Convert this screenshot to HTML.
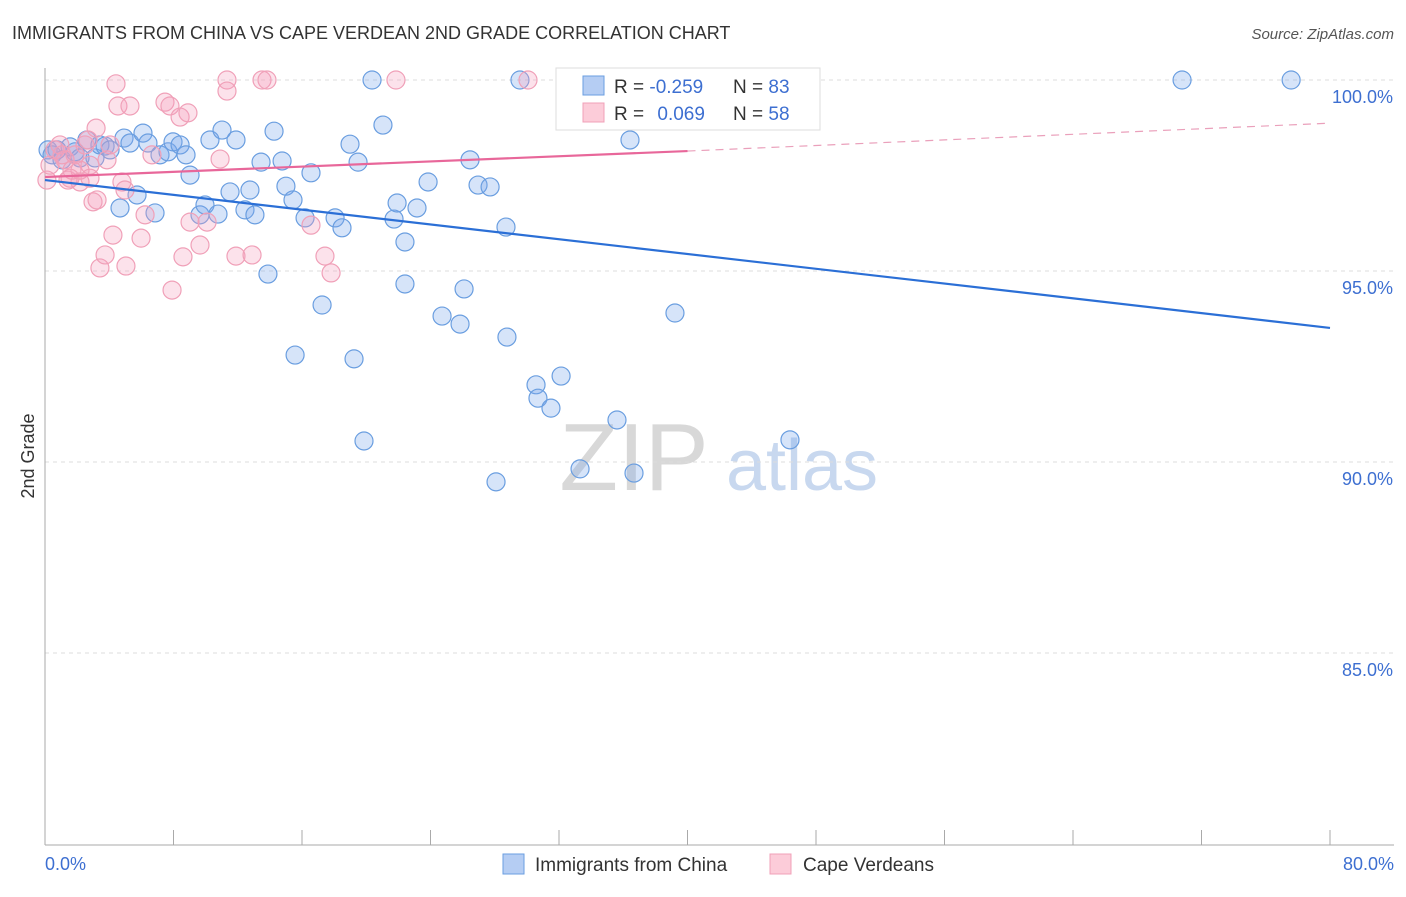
<!DOCTYPE html>
<html><head><meta charset="utf-8"><style>
body{margin:0;background:#fff;font-family:"Liberation Sans",sans-serif}
svg text{font-family:"Liberation Sans",sans-serif}
</style></head><body>
<svg id="c" width="1406" height="892" viewBox="0 0 1406 892">
<text x="12" y="39" font-size="18" fill="#333">IMMIGRANTS FROM CHINA VS CAPE VERDEAN 2ND GRADE CORRELATION CHART</text>
<text x="1394" y="39" font-size="15" fill="#555" font-style="italic" text-anchor="end">Source: ZipAtlas.com</text>
<text x="34" y="456" font-size="18" fill="#333" transform="rotate(-90 34 456)" text-anchor="middle">2nd Grade</text>
<g>
<text x="634" y="490" font-size="96" fill="#d8d8d8" font-family="Liberation Serif" text-anchor="middle">ZIP</text>
<text x="802" y="490" font-size="72" fill="#c8d8ef" text-anchor="middle">atlas</text>
</g>
<g id="grid"></g><g id="axes"></g><g id="pts"></g><g id="trend"></g>
<g>
<rect x="556" y="68" width="264" height="62" fill="#fff" stroke="#ddd"/>
<rect x="583" y="76" width="21" height="19" fill="#b5cdf3" stroke="#6a9ee0"/>
<rect x="583" y="103" width="21" height="19" fill="#fcccd9" stroke="#f0a0b8"/>
<text x="614" y="93" font-size="19" fill="#333">R = <tspan fill="#3d6fd1">-0.259</tspan></text>
<text x="733" y="93" font-size="19" fill="#333">N = <tspan fill="#3d6fd1">83</tspan></text>
<text x="614" y="120" font-size="19" fill="#333">R = <tspan fill="#3d6fd1" dx="8">0.069</tspan></text>
<text x="733" y="120" font-size="19" fill="#333">N = <tspan fill="#3d6fd1">58</tspan></text>
</g>
<g>
<rect x="503" y="854" width="21" height="20" fill="#b5cdf3" stroke="#6a9ee0"/>
<text x="535" y="871" font-size="19" fill="#333">Immigrants from China</text>
<rect x="770" y="854" width="21" height="20" fill="#fcccd9" stroke="#f0a0b8"/>
<text x="803" y="871" font-size="19" fill="#333">Cape Verdeans</text>
</g>
</svg>
<script>
const blueX=[0.19,0.44,0.75,1.06,1.56,1.87,2.18,2.61,3.11,3.42,3.74,4.05,4.67,4.92,5.29,5.73,6.10,6.41,6.85,7.16,7.66,7.97,8.41,8.78,9.03,9.65,9.96,10.27,10.77,11.02,11.52,11.89,12.45,12.76,13.07,13.45,13.88,14.26,14.76,15.00,15.44,15.57,16.19,16.56,17.25,18.06,18.49,18.99,19.24,19.49,19.86,20.36,21.04,21.73,21.92,22.41,22.41,23.16,23.85,24.72,25.84,26.09,26.46,26.96,27.71,28.08,28.70,28.76,29.57,30.57,30.69,31.50,32.13,32.87,33.31,35.61,36.42,36.67,39.22,40.78,46.38,70.79,77.58];
const blueY=[98.17,98.04,98.17,97.91,98.25,98.12,97.96,98.43,97.96,98.30,98.27,98.17,96.65,98.48,98.35,96.99,98.61,98.35,96.52,98.04,98.12,98.38,98.30,98.04,97.51,96.47,96.73,98.43,96.49,98.69,97.07,98.43,96.60,97.12,96.47,97.85,94.92,98.66,97.88,97.22,96.86,92.80,96.39,97.57,94.11,96.39,96.13,98.32,92.70,97.85,90.55,100.0,98.82,96.36,96.78,95.76,94.66,96.65,97.33,93.82,93.61,94.53,97.91,97.25,97.20,89.48,96.15,93.27,100.0,92.02,91.67,91.41,92.25,100.0,89.82,91.10,98.43,89.71,93.90,100.0,90.58,100.0,100.0];
const pinkX=[0.12,0.31,0.62,0.93,1.25,1.43,1.68,1.87,2.18,2.49,2.68,2.80,2.99,3.18,3.24,3.42,3.74,3.86,4.05,4.23,4.42,4.54,4.79,4.98,5.04,5.29,5.98,6.23,6.66,7.47,7.78,7.91,8.41,8.59,8.90,9.03,9.65,10.09,10.90,11.33,11.33,11.89,12.89,13.51,13.82,16.56,17.43,17.81,21.85,30.07,2.18,1.06,1.56,2.80];
const pinkY=[97.38,97.77,98.17,98.30,97.91,97.38,97.64,98.04,97.33,98.30,98.43,97.77,96.81,98.74,96.86,95.08,95.42,97.91,98.30,95.94,99.90,99.32,97.33,97.12,95.13,99.32,95.86,96.47,98.04,99.42,99.32,94.50,99.03,95.37,99.14,96.28,95.68,96.28,97.93,100.0,99.71,95.39,95.42,100.0,100.0,96.20,95.39,94.95,100.0,100.0,97.64,98.04,97.43,97.43];
const blueTrendX=[0,80], blueTrendY=[97.38,93.51];
const pinkTrendX=[0,40,80], pinkTrendY=[97.46,98.14,98.87];
const yTicks=[100,95,90,85], yTickLabels=["100.0%","95.0%","90.0%","85.0%"];
const xTicks=[0,8,16,24,32,40,48,56,64,72,80];
const NS="http://www.w3.org/2000/svg";
const X=v=>45+v/80*1285, Y=v=>80+(100-v)*38.2;
function mk(tag,at,parent){const e=document.createElementNS(NS,tag);for(const k in at)e.setAttribute(k,at[k]);document.getElementById(parent).appendChild(e);return e;}
yTicks.forEach((t,i)=>{
 const l=mk('line',{x1:45,x2:1394,y1:Y(t),y2:Y(t),stroke:'#ddd','stroke-dasharray':'4 4'},'grid');
 
 
 const tx=mk('text',{x:1393,y:Y(t)+23,'font-size':18,fill:'#3d6fd1','text-anchor':'end'},'axes');
 tx.textContent=yTickLabels[i];
 
 
});
const ya=mk('line',{x1:45,x2:45,y1:68,y2:845,stroke:'#aaa'},'axes');


const xa=mk('line',{x1:45,x2:1394,y1:845,y2:845,stroke:'#aaa'},'axes');


xTicks.forEach(t=>{
 const l=mk('line',{x1:X(t),x2:X(t),y1:830,y2:845,stroke:'#aaa'},'axes');
 
 
});
[[0,'0.0%','start',45],[80,'80.0%','end',1394]].forEach(a=>{
 const tx=mk('text',{x:a[3],y:870,'font-size':18,fill:'#3d6fd1','text-anchor':a[2]},'axes');
 tx.textContent=a[1];
 
 
});
blueX.forEach((v,i)=>{
 const c=mk('circle',{cx:X(v),cy:Y(blueY[i]),r:9,fill:'rgba(120,165,235,0.3)',stroke:'#6a9ee0','stroke-width':1.2},'pts');
 
 
});
pinkX.forEach((v,i)=>{
 const c=mk('circle',{cx:X(v),cy:Y(pinkY[i]),r:9,fill:'rgba(245,160,190,0.3)',stroke:'#f0a0b8','stroke-width':1.2},'pts');
 
 
});
const bl=mk('line',{x1:X(blueTrendX[0]),y1:Y(blueTrendY[0]),x2:X(blueTrendX[1]),y2:Y(blueTrendY[1]),stroke:'#2b6fd6','stroke-width':2.2},'trend');


const pl=mk('line',{x1:X(pinkTrendX[0]),y1:Y(pinkTrendY[0]),x2:X(pinkTrendX[1]),y2:Y(pinkTrendY[1]),stroke:'#e8679a','stroke-width':2.2},'trend');


const pd=mk('line',{x1:X(pinkTrendX[1]),y1:Y(pinkTrendY[1]),x2:X(pinkTrendX[2]),y2:Y(pinkTrendY[2]),stroke:'#eaa0bb','stroke-width':1.2,'stroke-dasharray':'8 6'},'trend');


</script>
</body></html>
